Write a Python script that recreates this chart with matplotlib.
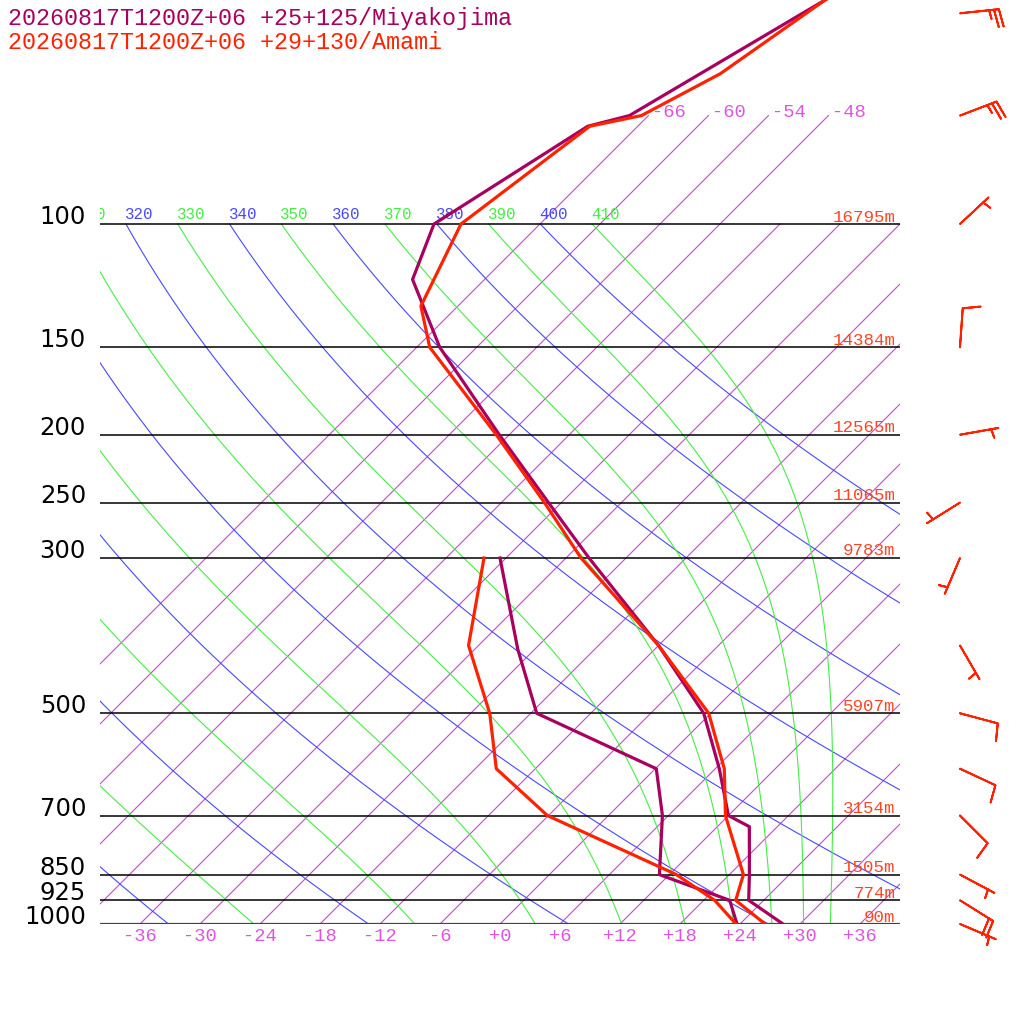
import numpy as np
import matplotlib
matplotlib.use('Agg')
import matplotlib.pyplot as plt
from matplotlib import transforms
from matplotlib.ticker import NullLocator

# ---------------- data ----------------
title_miya = "20260817T1200Z+06 +25+125/Miyakojima"
title_amami = "20260817T1200Z+06 +29+130/Amami"

miya_t_p = [1000, 925, 850, 726, 700, 600, 500, 400, 300, 250, 200, 150, 120, 100, 72.5, 70, 45]
miya_t = [28.3, 22.5, 20.0, 15.2, 12.0, 6.4, -0.7, -12.0, -27.7, -37.3, -49.0, -63.7, -73.2, -76.6, -71.0, -67.9, -58.6]
miya_td_p = [1000, 925, 850, 700, 600, 500, 405, 300]
miya_td = [23.7, 20.6, 11.0, 5.4, 0.1, -17.4, -25.7, -36.6]

amami_t_p = [1000, 925, 850, 700, 600, 500, 400, 300, 250, 200, 150, 131, 100, 72.5, 70, 61, 45]
amami_t = [26.5, 21.2, 19.4, 11.7, 6.9, -0.2, -12.0, -28.5, -37.7, -49.3, -64.7, -69.7, -73.9, -70.8, -66.7, -63.0, -59.1]
amami_td_p = [1000, 925, 850, 700, 600, 500, 400, 300]
amami_td = [23.6, 19.1, 12.7, -6.1, -15.9, -22.1, -31.0, -38.2]

plevels = [1000, 925, 850, 700, 500, 300, 250, 200, 150, 100]
plevel_labels = ["1000", "925", "850", "700", "500", "300", "250", "200", "150", "100"]
heights = ["90m", "774m", "1505m", "3154m", "5907m", "9783m", "11065m", "12565m", "14384m", "16795m"]

temp_ticks = list(range(-36, 37, 6))
temp_tick_labels = ["-36", "-30", "-24", "-18", "-12", "-6", "+0", "+6", "+12", "+18", "+24", "+30", "+36"]

isotherms = list(range(-66, 37, 6))
isotherm_labels = [-66, -60, -54, -48]
dry_thetas = list(range(240, 401, 20))
moist_thetas = list(range(250, 411, 20))

wind_p = [1000, 925, 850, 700, 600, 500, 400, 300, 250, 200, 150, 100, 70, 50]
wind_dir = [113, 122, 118, 135, 115, 105, 150, 203, 238, 80, 4, 47, 69, 84]
wind_spd = [5, 20, 5, 10, 10, 10, 5, 5, 5, 5, 10, 5, 25, 25]

# ---------------- style ----------------
C_MIYA = "#a8005e"
C_AMAMI = "#ff2200"
C_ISO = "#cc44dd"
C_ISO_LAB = "#dd55dd"
C_DRY = "#4848ff"
C_MOIST = "#44ee44"
C_HGT = "#ff4422"
MONO = "Liberation Mono"

W = H = 1024
fig = plt.figure(figsize=(10.24, 10.24), dpi=100)
P_TOP = 1000 * np.exp(-924 / 304.0)
ax = fig.add_axes([100 / W, 100 / H, 800 / W, 924 / H])
ax.set_yscale('log')
ax.set_ylim(1000, P_TOP)
ax.set_xlim(-40, 40)
for s in ax.spines.values():
    s.set_visible(False)
ax.yaxis.set_major_locator(NullLocator())
ax.yaxis.set_minor_locator(NullLocator())

y0 = ax.transData.transform((0, 1000))[1]
skew = transforms.Affine2D().translate(0, -y0).skew_deg(45, 0).translate(0, y0)
trans = ax.transData + skew

# isotherms
for T in isotherms:
    top = 70 if T <= -48 else 100
    ax.plot([T, T], [1000, top], transform=trans, color=C_ISO, lw=0.8, zorder=1)
lab_tr = transforms.offset_copy(trans, fig=fig, x=4, y=-1.5, units='dots')
for T in isotherm_labels:
    ax.text(T, 70, f"{T}", transform=lab_tr, ha='left', va='baseline',
            color=C_ISO_LAB, fontsize=13.5, family=MONO)

# dry adiabats
KAP = 0.2857
pp = np.geomspace(1000, 100, 200)
ad_lab_tr = transforms.offset_copy(trans, fig=fig, x=-1, y=5, units='dots')
for th in dry_thetas:
    T = th * (pp / 1000.0) ** KAP - 273.15
    ax.plot(T, pp, transform=trans, color=C_DRY, lw=0.8, zorder=1)
    if th >= 320:
        ax.text(th * 0.1 ** KAP - 273.15, 100, f"{th}", transform=ad_lab_tr,
                ha='left', va='baseline', color=C_DRY, fontsize=11.3, family=MONO, clip_on=True)

# pseudo adiabats
Rd, cpd, Lv, eps = 287.04, 1005.7, 2.501e6, 0.622


def dTdlnp(T, p):
    es = 6.112 * np.exp(17.67 * (T - 273.15) / (T - 29.65))
    rs = eps * es / (p - es)
    return (Rd * T + Lv * rs) / (cpd + Lv * Lv * rs * eps / (Rd * T * T))


lnp = np.linspace(np.log(100), np.log(1000), 300)
moist_lab_tr = transforms.offset_copy(trans, fig=fig, x=4, y=5, units='dots')
for th in moist_thetas:
    T = th * 0.1 ** KAP
    Ts = [T]
    for i in range(len(lnp) - 1):
        h = lnp[i + 1] - lnp[i]
        p1 = np.exp(lnp[i]); pm = np.exp(lnp[i] + h / 2); p2 = np.exp(lnp[i + 1])
        k1 = dTdlnp(T, p1)
        k2 = dTdlnp(T + h / 2 * k1, pm)
        k3 = dTdlnp(T + h / 2 * k2, pm)
        k4 = dTdlnp(T + h * k3, p2)
        T = T + h / 6 * (k1 + 2 * k2 + 2 * k3 + k4)
        Ts.append(T)
    ax.plot(np.array(Ts) - 273.15, np.exp(lnp), transform=trans, color=C_MOIST, lw=0.8, zorder=1)
    if th >= 310:
        tr = moist_lab_tr if th == 310 else ad_lab_tr
        ax.text(th * 0.1 ** KAP - 273.15, 100, f"{th}", transform=tr,
                ha='left', va='baseline', color=C_MOIST, fontsize=11.3, family=MONO, clip_on=True)

# pressure lines & labels
ytr = ax.get_yaxis_transform()
hgt_tr = transforms.offset_copy(ytr, fig=fig, y=2.5, units='dots')
for p, lab, hg in zip(plevels, plevel_labels, heights):
    if p == 1000:
        ax.axhline(p, color='#444444', lw=1.6, zorder=2)
    else:
        ax.axhline(p, color='black', lw=1.1, zorder=2)
    ax.text(-0.0175, p, lab, transform=ytr, ha='right', va='baseline',
            fontsize=17.5, family='DejaVu Sans', color='black', clip_on=False)
    ax.text(0.9945, p, hg, transform=hgt_tr, ha='right', va='baseline',
            fontsize=12.6, family=MONO, color=C_HGT)

# bottom temperature ticks
ax.set_xticks(temp_ticks)
ax.set_xticklabels(temp_tick_labels, family=MONO)
ax.tick_params(axis='x', length=0, pad=3, labelsize=13.5, labelcolor=C_ISO_LAB)

# profiles
ax.plot(miya_t, miya_t_p, transform=trans, color=C_MIYA, lw=2.3, zorder=5)
ax.plot(miya_td, miya_td_p, transform=trans, color=C_MIYA, lw=2.3, zorder=5)
ax.plot(amami_t, amami_t_p, transform=trans, color=C_AMAMI, lw=2.3, zorder=6)
ax.plot(amami_td, amami_td_p, transform=trans, color=C_AMAMI, lw=2.3, zorder=6)

# wind barbs
bax = fig.add_axes([900 / W, 100 / H, 124 / W, 924 / H])
bax.set_yscale('log')
bax.set_ylim(1000, P_TOP)
bax.set_xlim(-60, 64)
bax.axis('off')
d = np.deg2rad(np.array(wind_dir, dtype=float))
spd = np.array(wind_spd, dtype=float)
u = -spd * np.sin(d)
v = -spd * np.cos(d)
bax.barbs(np.zeros(len(wind_p)), wind_p, u, v, length=7.5, color=C_AMAMI, linewidth=1.4,
          sizes=dict(spacing=0.125, height=0.45, width=0.15, emptybarb=0.0), clip_on=False)

# titles
fig.text(8 / W, 1 - 25 / H, title_miya, color=C_MIYA, fontsize=16.8, family=MONO, va='baseline')
fig.text(8 / W, 1 - 49 / H, title_amami, color=C_AMAMI, fontsize=16.8, family=MONO, va='baseline')

fig.savefig('out.png', dpi=100, facecolor='white')
